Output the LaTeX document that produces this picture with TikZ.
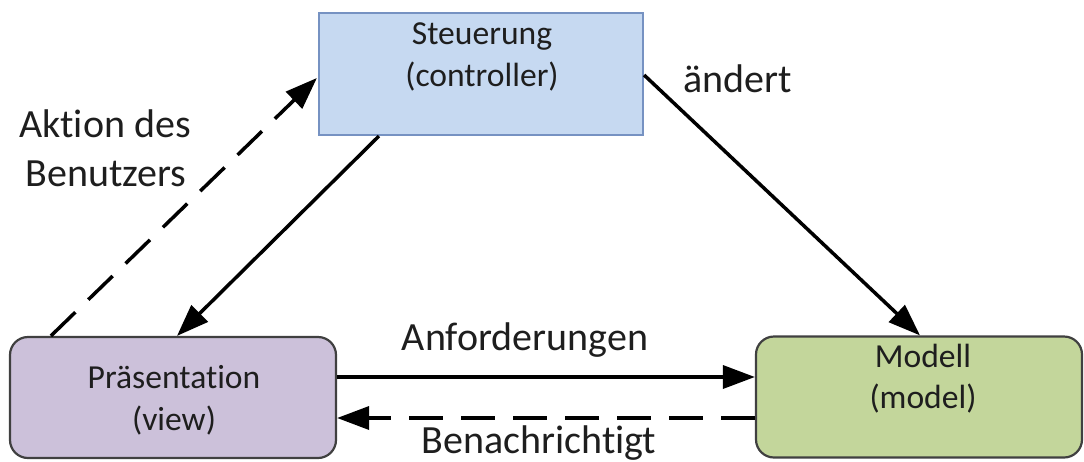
\documentclass[tikz,border=0pt]{standalone}
\usepackage{fontspec}
\setmainfont[Ligatures={NoCommon}]{Carlito}
\usetikzlibrary{arrows.meta,calc}

\definecolor{ctrlfill}{RGB}{198,217,241}
\definecolor{ctrldraw}{RGB}{118,146,194}
\definecolor{viewfill}{RGB}{204,193,218}
\definecolor{modelfill}{RGB}{195,214,155}
\definecolor{boxdraw}{RGB}{64,64,64}
\definecolor{txt}{RGB}{30,30,30}

\tikzset{
  box/.style={draw, line width=2.2pt, minimum width=326pt, minimum height=121pt,
              inner sep=0pt, text=txt},
  boxtext/.style={anchor=base, inner sep=0pt, text=txt,
                  font=\fontsize{33.6}{40}\selectfont},
  edgetext/.style={anchor=base, inner sep=0pt, text=txt,
                   font=\fontsize{40}{48}\selectfont},
  conn/.style={line width=3.5pt, -{Triangle[length=32pt,width=23pt]}},
  dashconn/.style={conn, dash pattern=on 34pt off 18pt},
}

\begin{document}
\begin{tikzpicture}[x=1pt,y=-1pt]
  \useasboundingbox (0,0) rectangle (1084,461);

  % boxes
  \node[box, fill=ctrlfill, draw=ctrldraw, minimum width=324pt, minimum height=122pt,
        rounded corners=0pt] (ctrl) at (481,74) {};
  \node[box, fill=viewfill, draw=boxdraw, rounded corners=18pt] (view) at (173,397.5) {};
  \node[box, fill=modelfill, draw=boxdraw, rounded corners=18pt] (model) at (919,397) {};

  % box texts
  \node[boxtext] (ctrl1) at (482,44) {Steuerung};
  \node[boxtext] (ctrl2) at (482,86) {(controller)};
  \node[boxtext] (view1) at (174,388) {Präsentation};
  \node[boxtext] (view2) at (174,430) {(view)};
  \node[boxtext] (model1) at (923,367) {Modell};
  \node[boxtext] (model2) at (923,408) {(model)};

  % connectors
  \draw[dashconn] ($(view.north west)+(42,0)$) -- ($(ctrl.west)+(-1,4)$);
  \draw[conn] ($(ctrl.south west)+(61,0)$) -- ($(view.north)+(4,0)$);
  \draw[conn] ($(ctrl.east)+(0,1)$) -- ($(model.north)+(1,0)$);
  \draw[conn] ($(view.east)+(0,-20.5)$) -- ($(model.west)+(0,-20)$);
  \draw[dashconn] ($(model.west)+(0,21)$) -- ($(view.east)+(0,20.5)$);

  % connector labels
  \node[edgetext] (act1) at (105,137) {Aktion des};
  \node[edgetext] (act2) at (106,186) {Benutzers};
  \node[edgetext] (chg) at (738,92) {ändert};
  \node[edgetext] (req) at (525,350) {Anforderungen};
  \node[edgetext] (ntf) at (539,453) {Benachrichtigt};
\end{tikzpicture}
\end{document}
